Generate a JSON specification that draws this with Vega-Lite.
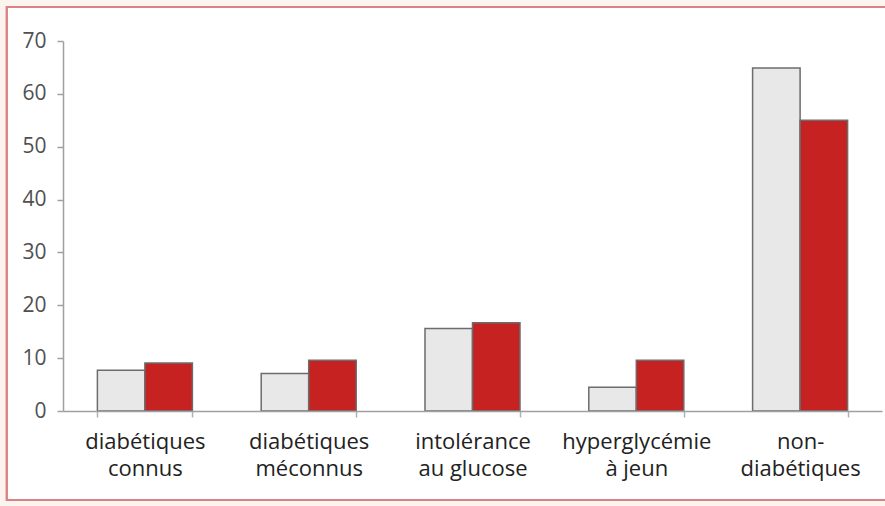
{
  "$schema": "https://vega.github.io/schema/vega-lite/v6.json",
  "width": 819,
  "height": 370,
  "autosize": {"type": "none"},
  "padding": {"left": 63, "top": 41, "right": 3, "bottom": 95},
  "background": "#fbf4ef",
  "config": {
    "view": {"stroke": null},
    "font": "Open Sans"
  },
  "data": {
    "values": [
      {"categorie": "diabétiques connus", "serie": "A", "valeur": 7.7},
      {"categorie": "diabétiques connus", "serie": "B", "valeur": 9.1},
      {"categorie": "diabétiques méconnus", "serie": "A", "valeur": 7.1},
      {"categorie": "diabétiques méconnus", "serie": "B", "valeur": 9.6},
      {"categorie": "intolérance au glucose", "serie": "A", "valeur": 15.6},
      {"categorie": "intolérance au glucose", "serie": "B", "valeur": 16.7},
      {"categorie": "hyperglycémie à jeun", "serie": "A", "valeur": 4.5},
      {"categorie": "hyperglycémie à jeun", "serie": "B", "valeur": 9.6},
      {"categorie": "non-diabétiques", "serie": "A", "valeur": 64.9},
      {"categorie": "non-diabétiques", "serie": "B", "valeur": 55}
    ]
  },
  "layer": [
    {
      "mark": {"type": "rect", "fill": "white", "stroke": "#d98384", "strokeWidth": 2, "clip": false},
      "encoding": {
        "x": {"datum": "diabétiques connus", "bandPosition": -0.952},
        "x2": {"datum": "non-diabétiques", "bandPosition": 1.404},
        "y": {"datum": 76.43},
        "y2": {"datum": -16.84}
      }
    },
    {
      "mark": {"type": "bar", "stroke": "#6c6c6c", "strokeWidth": 1.5},
      "encoding": {
        "x": {
          "field": "categorie",
          "type": "nominal",
          "scale": {
            "domain": ["diabétiques connus", "diabétiques méconnus", "intolérance au glucose", "hyperglycémie à jeun", "non-diabétiques"],
            "paddingInner": 0.42,
            "paddingOuter": 0.21
          },
          "axis": {
            "title": null,
            "labelAngle": 0,
            "labelAlign": "center",
            "zindex": 1,
            "domainColor": "#a0a0a0",
            "domainWidth": 1.5,
            "tickColor": "#b0b0b0",
            "tickSize": 6,
            "tickWidth": 1.5,
            "tickBand": "extent",
            "labelFontSize": 22,
            "labelColor": "#222222",
            "labelPadding": 14,
            "labelLineHeight": 27,
            "labelBaseline": "top",
            "labelExpr": "{'diabétiques connus': ['diabétiques', 'connus'], 'diabétiques méconnus': ['diabétiques', 'méconnus'], 'intolérance au glucose': ['intolérance', 'au glucose'], 'hyperglycémie à jeun': ['hyperglycémie', 'à jeun'], 'non-diabétiques': ['non-', 'diabétiques']}[datum.value]"
          }
        },
        "xOffset": {
          "field": "serie",
          "type": "nominal",
          "scale": {"paddingInner": 0, "paddingOuter": 0}
        },
        "y": {
          "field": "valeur",
          "type": "quantitative",
          "scale": {"domain": [0, 70], "nice": false},
          "axis": {
            "title": null,
            "zindex": 1,
            "values": [0, 10, 20, 30, 40, 50, 60, 70],
            "grid": false,
            "domainColor": "#a0a0a0",
            "domainWidth": 1.5,
            "tickColor": "#a0a0a0",
            "tickSize": 6,
            "tickWidth": 1.5,
            "labelFontSize": 21,
            "labelColor": "#505050",
            "labelPadding": 11
          }
        },
        "fill": {
          "field": "serie",
          "type": "nominal",
          "scale": {"range": ["#e8e8e8", "#c62222"]},
          "legend": null
        }
      }
    }
  ]
}
